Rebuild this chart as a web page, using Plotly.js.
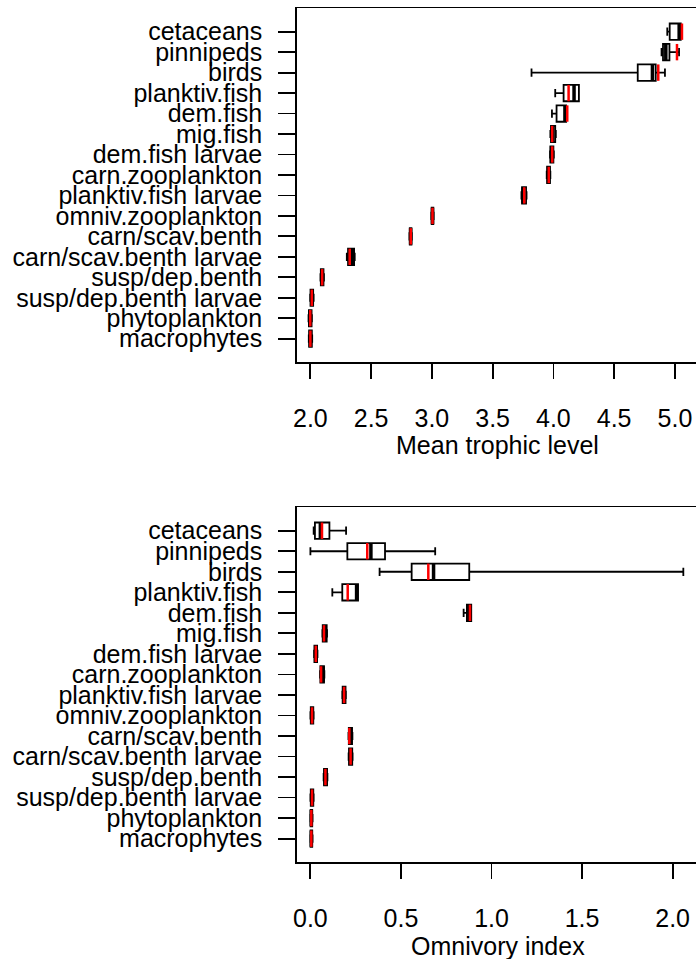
<!DOCTYPE html>
<html>
<head>
<meta charset="utf-8">
<script src="https://cdn.plot.ly/plotly-3.0.1.min.js"></script>
<style>
html,body{margin:0;padding:0;background:#fff;overflow:hidden;width:696px;height:959px;}
#chart{width:700px;height:959px;}
</style>
</head>
<body>
<div id="chart"></div>
<script>
// Categories, top to bottom
const categories = ['cetaceans','pinnipeds','birds','planktiv.fish','dem.fish','mig.fish','dem.fish larvae','carn.zooplankton','planktiv.fish larvae','omniv.zooplankton','carn/scav.benth','carn/scav.benth larvae','susp/dep.benth','susp/dep.benth larvae','phytoplankton','macrophytes'];

// Mean trophic level
const tlLower  = [4.937, 4.890, 3.820, 4.015, 3.988, 3.975, 3.972, 3.945, 3.737, 2.995, 2.815, 2.300, 2.083, 1.998, 1.985, 1.987];
const tlQ1     = [4.957, 4.902, 4.694, 4.084, 4.026, 3.980, 3.975, 3.948, 3.742, 2.998, 2.818, 2.310, 2.086, 2.001, 1.988, 1.990];
const tlMedian = [5.035, 4.925, 4.815, 4.170, 4.095, 3.995, 3.985, 3.960, 3.750, 3.005, 2.825, 2.345, 2.097, 2.012, 1.999, 2.000];
const tlQ3     = [5.048, 4.955, 4.842, 4.210, 4.105, 4.015, 4.000, 3.972, 3.775, 3.012, 2.832, 2.360, 2.108, 2.023, 2.010, 2.012];
const tlUpper  = [5.050, 5.034, 4.918, 4.210, 4.110, 4.020, 4.004, 3.975, 3.779, 3.015, 2.835, 2.365, 2.112, 2.027, 2.013, 2.015];
const tlRed    = [5.058, 5.017, 4.863, 4.125, 4.114, 3.990, 3.990, 3.962, 3.760, 3.005, 2.826, 2.324, 2.097, 2.012, 1.999, 2.000];

// Omnivory index
const oiLower  = [0.018, 0.000, 0.382, 0.121, 0.846, 0.066, 0.020, 0.053, 0.176, 0.000, 0.210, 0.211, 0.073, 0.000, 0.000, 0.000];
const oiQ1     = [0.025, 0.204, 0.559, 0.176, 0.864, 0.068, 0.022, 0.055, 0.178, 0.002, 0.212, 0.213, 0.075, 0.002, 0.001, 0.001];
const oiMedian = [0.055, 0.334, 0.680, 0.255, 0.875, 0.080, 0.030, 0.070, 0.186, 0.009, 0.222, 0.223, 0.083, 0.009, 0.005, 0.005];
const oiQ3     = [0.105, 0.412, 0.877, 0.263, 0.888, 0.090, 0.037, 0.075, 0.194, 0.016, 0.230, 0.231, 0.092, 0.016, 0.010, 0.010];
const oiUpper  = [0.197, 0.689, 2.059, 0.263, 0.888, 0.092, 0.039, 0.077, 0.196, 0.018, 0.232, 0.233, 0.094, 0.018, 0.012, 0.012];
const oiRed    = [0.064, 0.314, 0.651, 0.206, 0.881, 0.075, 0.030, 0.059, 0.186, 0.009, 0.215, 0.222, 0.083, 0.009, 0.005, 0.005];

// Tick labels
const tlTickVals = [2.0, 2.5, 3.0, 3.5, 4.0, 4.5, 5.0];
const tlTickText = ['2.0','2.5','3.0','3.5','4.0','4.5','5.0'];
const oiTickVals = [0.0, 0.5, 1.0, 1.5, 2.0];
const oiTickText = ['0.0','0.5','1.0','1.5','2.0'];

const FONT = 'Liberation Sans, Arial, sans-serif';
const FS = 25;
const markSize = 11.7;

function boxTrace(lo, q1, med, q3, up, xa, ya) {
  return {
    type: 'box', orientation: 'h', y: categories,
    lowerfence: lo, q1: q1, median: med, q3: q3, upperfence: up,
    xaxis: xa, yaxis: ya, width: 0.8, whiskerwidth: 0.5,
    fillcolor: '#ffffff', line: {color: '#000000', width: 1.8},
    boxpoints: false, hoverinfo: 'skip', showlegend: false
  };
}
function lineMarks(vals, color, w, xa, ya) {
  return {
    type: 'scatter', mode: 'markers', x: vals, y: categories,
    xaxis: xa, yaxis: ya, hoverinfo: 'skip', showlegend: false, cliponaxis: false,
    marker: {symbol: 'line-ns-open', size: markSize, color: color, line: {color: color, width: w}}
  };
}

const data = [
  boxTrace(tlLower, tlQ1, tlMedian, tlQ3, tlUpper, 'x', 'y'),
  lineMarks(tlMedian, '#000000', 3.5, 'x', 'y'),
  lineMarks(tlRed, '#ff0000', 2.5, 'x', 'y'),
  boxTrace(oiLower, oiQ1, oiMedian, oiQ3, oiUpper, 'x2', 'y2'),
  lineMarks(oiMedian, '#000000', 3.5, 'x2', 'y2'),
  lineMarks(oiRed, '#ff0000', 2.5, 'x2', 'y2')
];

const yCommon = {
  type: 'category', categoryorder: 'array', categoryarray: categories,
  tickmode: 'array', tickvals: categories, ticktext: categories,
  range: [16.14, -1.14], autorange: false,
  showline: true, mirror: true, linecolor: '#000', linewidth: 1.8,
  ticks: 'outside', ticklen: 17, tickwidth: 1.8, tickcolor: '#000',
  ticklabelstandoff: 11,
  tickfont: {family: FONT, size: FS, color: '#000'},
  showgrid: false, zeroline: false, automargin: false, fixedrange: true
};
const xCommon = {
  showline: true, mirror: true, linecolor: '#000', linewidth: 1.8,
  ticks: 'outside', ticklen: 15, tickwidth: 1.8, tickcolor: '#000',
  ticklabelstandoff: 18,
  tickfont: {family: FONT, size: FS, color: '#000'},
  showgrid: false, zeroline: false, automargin: false, fixedrange: true,
  tickmode: 'array'
};

const layout = {
  width: 700, height: 959,
  margin: {l: 297, r: 2, t: 0, b: 0},
  paper_bgcolor: '#fff', plot_bgcolor: '#fff',
  showlegend: false, boxmode: 'overlay',
  font: {family: FONT, size: FS, color: '#000'},
  xaxis: Object.assign({}, xCommon, {anchor: 'y', range: [1.89, 5.19], tickvals: tlTickVals, ticktext: tlTickText}),
  yaxis: Object.assign({}, yCommon, {anchor: 'x', domain: [0.6225, 0.9913]}),
  xaxis2: Object.assign({}, xCommon, {anchor: 'y2', range: [-0.074, 2.14], tickvals: oiTickVals, ticktext: oiTickText}),
  yaxis2: Object.assign({}, yCommon, {anchor: 'x2', domain: [0.1011, 0.4710]}),
  annotations: [
    {text: 'Mean trophic level', xref: 'paper', yref: 'paper', x: 0.5, y: 0.5355, xanchor: 'center', yanchor: 'middle', showarrow: false, font: {family: FONT, size: FS, color: '#000'}},
    {text: 'Omnivory index', xref: 'paper', yref: 'paper', x: 0.5, y: 0.0135, xanchor: 'center', yanchor: 'middle', showarrow: false, font: {family: FONT, size: FS, color: '#000'}}
  ]
};

Plotly.newPlot('chart', data, layout, {staticPlot: true, displayModeBar: false});
</script>
</body>
</html>
